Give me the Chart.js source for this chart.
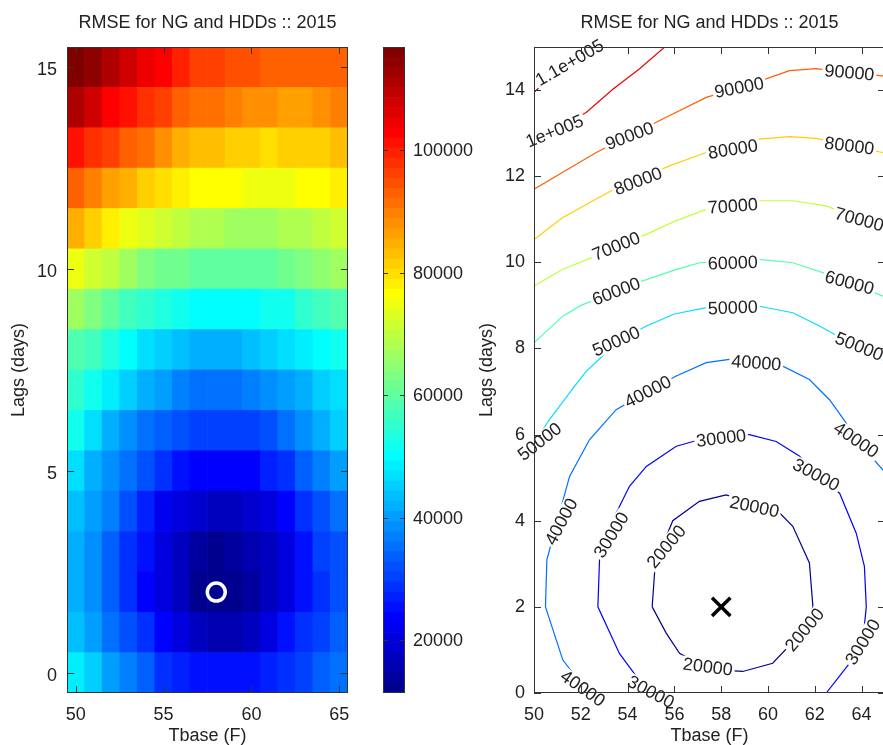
<!DOCTYPE html>
<html>
<head>
<meta charset="utf-8">
<script src="https://cdn.jsdelivr.net/npm/chart.js@4.4.1/dist/chart.umd.min.js"></script>
<style>
    html, body { margin: 0; padding: 0; background: #fff; overflow: hidden; width: 883px; height: 745px; }
    canvas { position: absolute; top: 0; }
    #heat { left: 0; }
    #cbar { left: 370px; }
    #cont { left: 468px; }
</style>
</head>
<body>
<canvas id="heat" width="362" height="745"></canvas>
<canvas id="cbar" width="110" height="745"></canvas>
<canvas id="cont" width="417" height="745"></canvas>
<script>
// RMSE du modèle NG ~ HDDs, balayage Tbase x Lags (2015)
var titleText = 'RMSE for NG and HDDs :: 2015';
var tbase = [50, 51, 52, 53, 54, 55, 56, 57, 58, 59, 60, 61, 62, 63, 64, 65];
var lags  = [0, 1, 2, 3, 4, 5, 6, 7, 8, 9, 10, 11, 12, 13, 14, 15];

// une ligne par lag, colonnes = tbase 50..65
var rmseLag0  = [48000, 45000, 41000, 37500, 33500, 29500, 27000, 25500, 25000, 25000, 26000, 27500, 29300, 31000, 33500, 36000];
var rmseLag1  = [43500, 40500, 36000, 32500, 28000, 24000, 20500, 17000, 15500, 15500, 17500, 21000, 25000, 28800, 30300, 33000];
var rmseLag2  = [42000, 37900, 33000, 29000, 24500, 20200, 16500, 13000, 11400, 12000, 13500, 16500, 20500, 25500, 29500, 32000];
var rmseLag3  = [42000, 38500, 33500, 29000, 25000, 20700, 16800, 14000, 13000, 13300, 15000, 17500, 20800, 25500, 29600, 32500];
var rmseLag4  = [43500, 40500, 37000, 32000, 26500, 22500, 19800, 18000, 17500, 17500, 18500, 20500, 24500, 28000, 31500, 35000];
var rmseLag5  = [47000, 42500, 38000, 34500, 31300, 28000, 25500, 24000, 23000, 23000, 24000, 26500, 29500, 33000, 36500, 40000];
var rmseLag6  = [51000, 47000, 42500, 38500, 35500, 33000, 31500, 30500, 30000, 30000, 30800, 32500, 35500, 38200, 42000, 45500];
var rmseLag7  = [55000, 52500, 48000, 45000, 42000, 39700, 37500, 36000, 35500, 35500, 36500, 38000, 39500, 42000, 45500, 47500];
var rmseLag8  = [59000, 57000, 54000, 50800, 47500, 45000, 43000, 42000, 41800, 42000, 43000, 44500, 46000, 48000, 49900, 52500];
var rmseLag9  = [66500, 63500, 60500, 57500, 55000, 53000, 51500, 50700, 50300, 50100, 50100, 51000, 52500, 54500, 56500, 59000];
var rmseLag10 = [74300, 71800, 69700, 66500, 64000, 62200, 61000, 60100, 59900, 59600, 59600, 60000, 61000, 62500, 64500, 66500];
var rmseLag11 = [85000, 80700, 77500, 75000, 73000, 71500, 70400, 68600, 67800, 66800, 66000, 66500, 67500, 68800, 70000, 71300];
var rmseLag12 = [92150, 89800, 86500, 84000, 81500, 79500, 78000, 77000, 76200, 75800, 75500, 75500, 75600, 76000, 76800, 78000];
var rmseLag13 = [101400, 98000, 95500, 93000, 90800, 88500, 85500, 83500, 82500, 81500, 80600, 80400, 80600, 81200, 82000, 83000];
var rmseLag14 = [110450, 107000, 103500, 100800, 98000, 95500, 93500, 91800, 90500, 89000, 88000, 87300, 87000, 87000, 88000, 89000];
var rmseLag15 = [116800, 114500, 111800, 108500, 105000, 102000, 99000, 97000, 96000, 95000, 94000, 93200, 92800, 92500, 92500, 93000];
var rmseRows = [rmseLag0, rmseLag1, rmseLag2, rmseLag3, rmseLag4, rmseLag5, rmseLag6, rmseLag7,
                rmseLag8, rmseLag9, rmseLag10, rmseLag11, rmseLag12, rmseLag13, rmseLag14, rmseLag15];

var heatXTicks = [50, 55, 60, 65];
var heatYTicks = [0, 5, 10, 15];
var cbarTicks  = [20000, 40000, 60000, 80000, 100000];
var contXTicks = [50, 52, 54, 56, 58, 60, 62, 64];
var contYTicks = [0, 2, 4, 6, 8, 10, 12, 14];

// courbes de niveau [tbase, lag]
var contour20000 = [[55.05, 2], [55.18, 3], [55.93, 4], [57.07, 4.45], [58.21, 4.6], [59.4, 4.4], [60.5, 4.18], [61.06, 3.87], [61.77, 3.02], [61.92, 2], [61.56, 1.47], [60.2, 0.69], [58.92, 0.5], [57.43, 0.55], [56.22, 0.92], [55.65, 1.39], [55.05, 2]];
var contour30000 = [[54.9, 0], [53.65, 0.92], [52.73, 2], [52.8, 3.09], [53.44, 4.1], [54.08, 4.8], [54.8, 5.26], [56.08, 5.73], [57.07, 5.88], [58, 6], [59.2, 6], [60.35, 5.84], [61.35, 5.5], [62.06, 5.03], [63.06, 4.64], [63.77, 3.71], [64.12, 2.94], [64.2, 2], [64.05, 1.19], [63.48, 0.69], [62.49, 0]];
var contour40000 = [[52.3, 0], [51.23, 0.77], [50.49, 2], [50.55, 3.09], [51, 4], [51.52, 5.03], [52.37, 5.88], [53.51, 6.58], [54.86, 7], [56.08, 7.36], [57.36, 7.67], [58.5, 7.76], [59.5, 7.7], [60.63, 7.59], [61.77, 7.28], [62.63, 6.81], [63.3, 6.3], [63.77, 5.88], [64.9, 5.19], [65, 5.1]];
var contour50000 = [[50, 5.8], [50.66, 6.35], [51.52, 6.97], [52.2, 7.45], [53, 7.86], [53.5, 8.12], [54.8, 8.52], [56, 8.8], [57.36, 8.95], [58.5, 8.97], [59.63, 8.98], [61.06, 8.83], [62.2, 8.52], [63.1, 8.25], [63.9, 8.05], [64.89, 7.74], [65, 7.7]];
var contour60000 = [[50, 8.13], [51.23, 8.75], [52, 9], [52.66, 9.14], [53.5, 9.35], [54.8, 9.6], [56, 9.82], [57.07, 9.99], [58.5, 10.03], [59.63, 10.07], [61.06, 9.99], [62.34, 9.76], [63.48, 9.53], [64.89, 9.22], [65, 9.2]];
var contour70000 = [[50, 9.45], [51.23, 9.84], [52.66, 10.15], [53.5, 10.38], [54.8, 10.65], [56, 10.95], [57.36, 11.23], [58.5, 11.31], [59.63, 11.43], [61.06, 11.43], [62.49, 11.31], [63.9, 11], [64.89, 10.73], [65, 10.7]];
var contour80000 = [[50, 10.53], [51.23, 11.04], [52.66, 11.47], [53.5, 11.72], [54.44, 11.92], [55.79, 12.24], [57.36, 12.55], [58.5, 12.7], [59.63, 12.86], [60.92, 12.92], [62.06, 12.88], [63.48, 12.71], [64.89, 12.55], [65, 12.53]];
var contour90000 = [[50, 11.7], [51.23, 12.09], [52.66, 12.55], [54.08, 12.94], [55.5, 13.33], [57.36, 13.83], [58.77, 14.06], [59.92, 14.26], [60.92, 14.45], [62.06, 14.5], [63.48, 14.41], [64.89, 14.33], [65, 14.32]];
var contour100000 = [[50, 12.85], [51, 13.12], [52.23, 13.48], [53.37, 14.02], [54.5, 14.49], [55.65, 15.03]];
var contour110000 = [[50, 13.95], [51, 14.42], [52, 14.82], [52.6, 15.05]];
var contourLevels = [20000, 30000, 40000, 50000, 60000, 70000, 80000, 90000, 100000, 110000];
var contourPaths  = [contour20000, contour30000, contour40000, contour50000, contour60000,
                     contour70000, contour80000, contour90000, contour100000, contour110000];

// étiquettes : [niveau, tbase, lag, angle en degrés]
var contourLabels = [
    [110000, 51.52, 14.64, -30], [100000, 50.88, 13.05, -22],
    [90000, 54.08, 12.94, -21], [90000, 58.77, 14.06, -11], [90000, 63.48, 14.41, 5],
    [80000, 54.44, 11.89, -21], [80000, 58.5, 12.63, -9], [80000, 63.48, 12.71, 7],
    [70000, 53.51, 10.38, -22], [70000, 58.5, 11.31, -4], [70000, 63.9, 11.0, 15],
    [60000, 53.51, 9.33, -21], [60000, 58.5, 9.99, -2], [60000, 63.48, 9.53, 15],
    [50000, 53.51, 8.17, -24], [50000, 58.5, 8.95, -2], [50000, 63.9, 8.05, 22], [50000, 50.24, 5.84, -38],
    [40000, 54.86, 7.0, -27], [40000, 59.5, 7.67, 4], [40000, 63.77, 5.88, 34], [40000, 51.16, 3.98, -62], [40000, 52.09, 0.11, 35],
    [30000, 58.0, 5.92, -7], [30000, 62.06, 5.07, 28], [30000, 53.3, 3.67, -58], [30000, 55.0, 0.03, 28], [30000, 64.05, 1.19, -58],
    [20000, 59.42, 4.33, 12], [20000, 55.65, 3.4, -50], [20000, 61.56, 1.47, -50], [20000, 57.43, 0.61, 7]
];

var FONT = '"Liberation Sans", Arial, Helvetica, sans-serif';
var INK = '#222222';
Chart.defaults.font.family = FONT;
Chart.defaults.font.size = 18;
Chart.defaults.color = INK;
Chart.defaults.animation = false;
Chart.defaults.plugins.legend.display = false;
Chart.defaults.plugins.tooltip.enabled = false;

// min / max de la grille (clim auto)
var zMin = Infinity, zMax = -Infinity, best = null;
rmseRows.forEach(function (row, r) {
    row.forEach(function (v, c) {
        if (v < zMin) { zMin = v; best = { tbase: tbase[c], lag: lags[r] }; }
        if (v > zMax) zMax = v;
    });
});

// jet 64 couleurs
function jet(v, lo, hi) {
    var i = Math.floor((v - lo) / (hi - lo) * 64);
    i = Math.max(0, Math.min(63, i));
    var t = (i + 1) / 64;
    function c(x) { return Math.round(255 * Math.max(0, Math.min(1, x))); }
    return 'rgb(' + c(1.5 - Math.abs(4 * t - 3)) + ',' + c(1.5 - Math.abs(4 * t - 2)) + ',' + c(1.5 - Math.abs(4 * t - 1)) + ')';
}

function levelText(v) {
    return v >= 100000 ? (v / 100000) + 'e+005' : String(v);
}

function fixedTicks(list, toValue) {
    return function (axis) {
        axis.ticks = list.map(function (v) { return { value: toValue ? toValue(v) : v }; });
    };
}

// taille fixe des axes, sans marge ajoutée pour les étiquettes
function fitTo(prop, size) {
    return function (axis) {
        axis[prop] = size;
        axis.paddingLeft = 0; axis.paddingRight = 0;
        axis.paddingTop = 0; axis.paddingBottom = 0;
    };
}

// cadre + graduations vers l'intérieur (style matlab)
var frame = {
    id: 'frame',
    afterDraw: function (chart, args, opts) {
        var ctx = chart.ctx, a = chart.chartArea, len = opts.tick || 7;
        ctx.save();
        ctx.strokeStyle = '#333333';
        ctx.lineWidth = 1;
        ctx.beginPath();
        var xs = chart.scales.x, ys = chart.scales.y;
        if (opts.xTicks !== false) {
            xs.ticks.forEach(function (t, i) {
                var px = Math.round(xs.getPixelForTick(i)) + 0.5;
                ctx.moveTo(px, a.bottom); ctx.lineTo(px, a.bottom - len);
                ctx.moveTo(px, a.top); ctx.lineTo(px, a.top + len);
            });
        }
        ys.ticks.forEach(function (t, i) {
            var py = Math.round(ys.getPixelForTick(i)) + 0.5;
            ctx.moveTo(a.left, py); ctx.lineTo(a.left + len, py);
            ctx.moveTo(a.right, py); ctx.lineTo(a.right - len, py);
        });
        ctx.stroke();
        ctx.strokeRect(Math.round(a.left) + 0.5, Math.round(a.top) + 0.5,
            Math.round(a.right - a.left) - 1, Math.round(a.bottom - a.top) - 1);
        ctx.restore();
    }
};

var panelTitle = {
    id: 'panelTitle',
    afterDraw: function (chart, args, opts) {
        if (!opts.text) return;
        var ctx = chart.ctx, a = chart.chartArea;
        ctx.save();
        ctx.font = '18px ' + FONT;
        ctx.fillStyle = INK;
        ctx.textAlign = 'center';
        ctx.textBaseline = 'middle';
        ctx.fillText(opts.text, (a.left + a.right) / 2, 23);
        ctx.restore();
    }
};

// étiquettes des contours : trou blanc dans la ligne puis texte
var contourText = {
    id: 'contourText',
    afterDatasetsDraw: function (chart) {
        var ctx = chart.ctx, a = chart.chartArea;
        ctx.save();
        ctx.beginPath();
        ctx.rect(a.left, a.top, a.right - a.left, a.bottom - a.top);
        ctx.clip();
        ctx.font = '18px ' + FONT;
        ctx.fillStyle = '#ffffff';
        contourLabels.forEach(function (L) {
            var w = ctx.measureText(levelText(L[0])).width;
            ctx.save();
            ctx.translate(chart.scales.x.getPixelForValue(L[1]), chart.scales.y.getPixelForValue(L[2]));
            ctx.rotate(L[3] * Math.PI / 180);
            ctx.fillRect(-w / 2 - 2, -8, w + 4, 16);
            ctx.restore();
        });
        ctx.restore();
    },
    afterDraw: function (chart) {
        var ctx = chart.ctx;
        ctx.save();
        ctx.font = '18px ' + FONT;
        ctx.fillStyle = INK;
        ctx.textAlign = 'center';
        ctx.textBaseline = 'middle';
        contourLabels.forEach(function (L) {
            ctx.save();
            ctx.translate(chart.scales.x.getPixelForValue(L[1]), chart.scales.y.getPixelForValue(L[2]));
            ctx.rotate(L[3] * Math.PI / 180);
            ctx.fillText(levelText(L[0]), 0, 1);
            ctx.restore();
        });
        ctx.restore();
    }
};

var axisTitleFont = { size: 18, lineHeight: 1 };
var noGrid = { display: false, drawTicks: false };

// ---- carte de chaleur ----
var tbaseLabels = tbase.map(String);
var heatSets = lags.map(function (lag, r) {
    return {
        type: 'bar',
        data: tbase.map(function () { return [lag - 0.5, lag + 0.5]; }),
        backgroundColor: rmseRows[r].map(function (v) { return jet(v, zMin, zMax); }),
        borderWidth: 0,
        barPercentage: 1,
        categoryPercentage: 1,
        grouped: false,
        order: 1
    };
});
heatSets.push({
    type: 'line',
    data: [{ x: String(best.tbase), y: best.lag }],
    showLine: false,
    pointStyle: 'circle',
    pointRadius: 9,
    pointBorderWidth: 3.5,
    pointBorderColor: '#ffffff',
    pointBackgroundColor: 'rgba(0,0,0,0)',
    order: 0
});

new Chart(document.getElementById('heat'), {
    type: 'bar',
    data: { labels: tbaseLabels, datasets: heatSets },
    plugins: [frame, panelTitle],
    options: {
        responsive: false,
        devicePixelRatio: 1,
        layout: { autoPadding: false, padding: { top: 47, right: 14, bottom: 0, left: 0 } },
        plugins: { frame: { tick: 7 }, panelTitle: { text: titleText } },
        scales: {
            x: {
                type: 'category',
                offset: true,
                grid: noGrid,
                border: { display: false },
                ticks: { padding: 11, maxRotation: 0, autoSkip: false },
                afterBuildTicks: fixedTicks(heatXTicks, function (v) { return tbase.indexOf(v); }),
                afterFit: fitTo('height', 52),
                title: { display: true, text: 'Tbase (F)', font: axisTitleFont, padding: 0 }
            },
            y: {
                type: 'linear',
                min: -0.5,
                max: 15.5,
                grid: noGrid,
                border: { display: false },
                ticks: { padding: 10, labelOffset: 3 },
                afterBuildTicks: fixedTicks(heatYTicks),
                afterFit: fitTo('width', 67),
                title: { display: true, text: 'Lags (days)', font: axisTitleFont, padding: { top: 10, bottom: 0 } }
            }
        }
    }
});

// ---- barre de couleurs ----
var bandSets = [];
for (var i = 0; i < 64; i++) {
    var lo = zMin + (zMax - zMin) * i / 64, hi = zMin + (zMax - zMin) * (i + 1) / 64;
    bandSets.push({
        data: [[lo, hi]],
        backgroundColor: jet((lo + hi) / 2, zMin, zMax),
        borderWidth: 0,
        barPercentage: 1,
        categoryPercentage: 1,
        grouped: false
    });
}

new Chart(document.getElementById('cbar'), {
    type: 'bar',
    data: { labels: [''], datasets: bandSets },
    plugins: [frame],
    options: {
        responsive: false,
        devicePixelRatio: 1,
        layout: { autoPadding: false, padding: { top: 47, right: 0, bottom: 52, left: 13 } },
        plugins: { frame: { tick: 5, xTicks: false } },
        scales: {
            x: { display: false },
            y: {
                position: 'right',
                min: zMin,
                max: zMax,
                grid: noGrid,
                border: { display: false },
                ticks: { padding: 8, labelOffset: 1, callback: function (v) { return String(v); } },
                afterBuildTicks: fixedTicks(cbarTicks),
                afterFit: fitTo('width', 75)
            }
        }
    }
});

// ---- contours ----
var levelMin = contourLevels[0], levelMax = contourLevels[contourLevels.length - 1];
var contSets = contourPaths.map(function (path, k) {
    return {
        data: path.map(function (p) { return { x: p[0], y: p[1] }; }),
        showLine: true,
        borderColor: jet(contourLevels[k], levelMin, levelMax),
        borderWidth: 1.2,
        pointRadius: 0,
        tension: 0,
        order: 1
    };
});
contSets.push({
    data: [{ x: best.tbase, y: best.lag }],
    pointStyle: 'crossRot',
    pointRadius: 13,
    pointBorderWidth: 3.5,
    pointBorderColor: '#000000',
    order: 0
});

new Chart(document.getElementById('cont'), {
    type: 'scatter',
    data: { datasets: contSets },
    plugins: [contourText, frame, panelTitle],
    options: {
        responsive: false,
        devicePixelRatio: 1,
        layout: { autoPadding: false, padding: { top: 47, right: 0, bottom: 0, left: 0 } },
        plugins: { frame: { tick: 7 }, panelTitle: { text: titleText } },
        scales: {
            x: {
                type: 'linear',
                min: 50,
                max: 65,
                grid: noGrid,
                border: { display: false },
                ticks: { padding: 11, maxRotation: 0 },
                afterBuildTicks: fixedTicks(contXTicks),
                afterFit: fitTo('height', 52),
                title: { display: true, text: 'Tbase (F)', font: axisTitleFont, padding: 0 }
            },
            y: {
                type: 'linear',
                min: 0,
                max: 15,
                grid: noGrid,
                border: { display: false },
                ticks: { padding: 9 },
                afterBuildTicks: fixedTicks(contYTicks),
                afterFit: fitTo('width', 66),
                title: { display: true, text: 'Lags (days)', font: axisTitleFont, padding: { top: 10, bottom: 0 } }
            }
        }
    }
});
</script>
</body>
</html>
